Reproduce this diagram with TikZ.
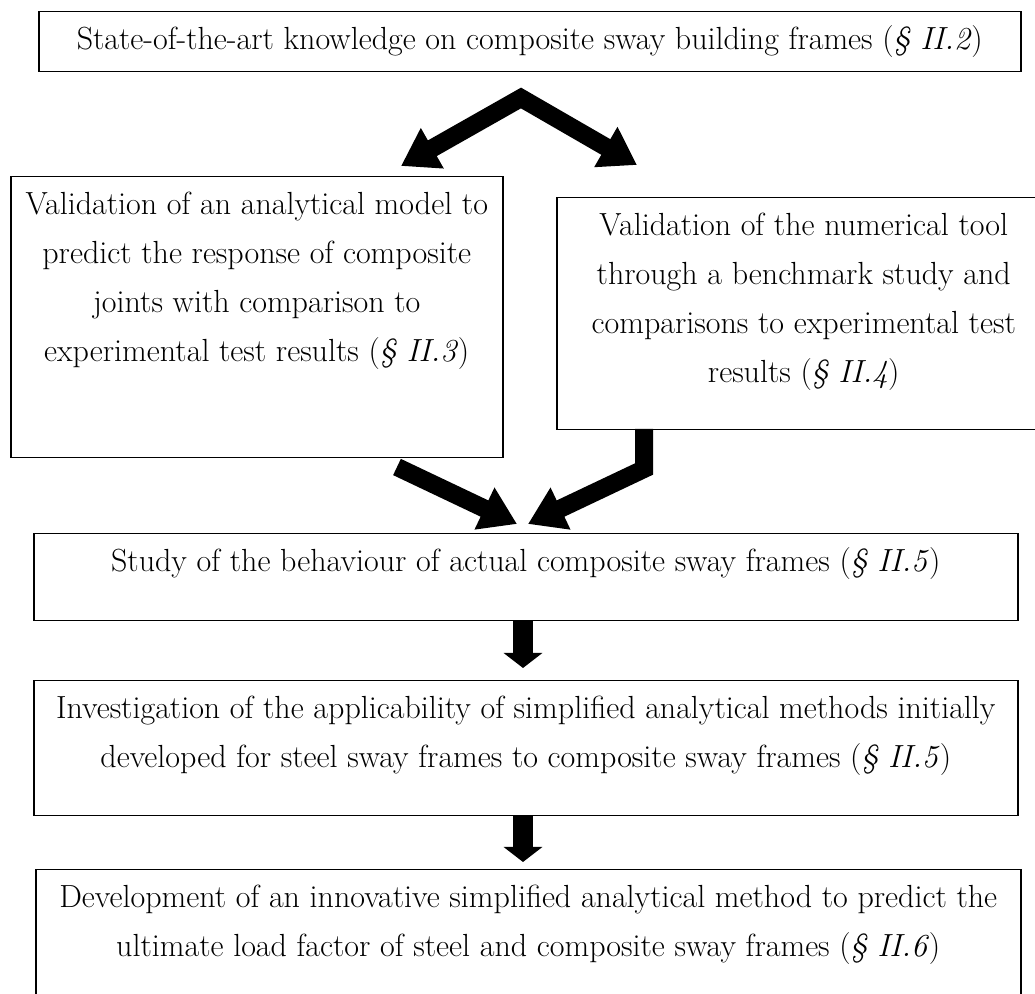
\documentclass[tikz,border=0pt]{standalone}
\usepackage{fontspec}
\usepackage{tikz}
\usetikzlibrary{arrows.meta,positioning}
\tikzset{
  stagebox/.style={rectangle, draw, line width=0.75pt, anchor=north west, inner sep=0pt},
  stagetext/.style={align=center, inner sep=0pt, font=\fontsize{16}{24.5}\selectfont},
  flowarrow/.style={line width=9pt, -{Triangle[width=22pt,length=18pt]}},
  downarrow/.style={line width=10pt, -{Triangle[width=19pt,length=7.5pt]}},
}

\begin{document}
\begin{tikzpicture}[x=0.5pt,y=-0.5pt]
  \useasboundingbox (0,0) rectangle (1035,994);
  \clip (0,0) rectangle (1035,994);

  % Boxes of the work plan
  \node[stagebox, minimum width=491pt, minimum height=30pt] (sota) at (38,11) {};
  \node[stagebox, minimum width=246pt, minimum height=140.5pt] (joints) at (10,176) {};
  \node[stagebox, minimum width=247pt, minimum height=116pt] (numtool) at (556,197) {};
  \node[stagebox, minimum width=492pt, minimum height=43.5pt] (actual) at (33,533) {};
  \node[stagebox, minimum width=492pt, minimum height=67.5pt] (simplif) at (33,680) {};
  \node[stagebox, minimum width=492.5pt, minimum height=100pt] (newmeth) at (35,869) {};

  % Texts
  \node[stagetext, below=7pt of sota.north] (sotatxt)
    {State-of-the-art knowledge on composite sway building frames (\textit{\S\ II.2})};
  \node[stagetext, below=8pt of joints.north] (jointstxt)
    {Validation of an analytical model to\\ predict the response of composite\\ joints with comparison to\\ experimental test results (\textit{\S\ II.3})};
  \node[stagetext, below=8pt of numtool.north] (numtooltxt)
    {Validation of the numerical tool\\ through a benchmark study and\\ comparisons to experimental test\\ results (\textit{\S\ II.4})};
  \node[stagetext, below=7pt of actual.north] (actualtxt)
    {Study of the behaviour of actual composite sway frames (\textit{\S\ II.5})};
  \node[stagetext, below=8pt of simplif.north] (simpliftxt)
    {Investigation of the applicability of simplified analytical methods initially\\ developed for steel sway frames to composite sway frames (\textit{\S\ II.5})};
  \node[stagetext, below=8pt of newmeth.north] (newmethtxt)
    {Development of an innovative simplified analytical method to predict the\\ ultimate load factor of steel and composite sway frames (\textit{\S\ II.6})};

  % Arrow ends
  \coordinate (split) at (521,98);
  \coordinate (splitL) at (401,166);
  \coordinate (splitR) at (637,165);
  \coordinate (joinL) at (397,467);
  \coordinate (joinR) at (644,429);
  \coordinate (bendR) at (644,469);
  \coordinate (tipL) at (517,524);
  \coordinate (tipR) at (528,524);

  % Arrows
  \draw[flowarrow, {Triangle[width=22pt,length=18pt]}-{Triangle[width=22pt,length=18pt]}]
    (splitL) -- (split) -- (splitR);
  \draw[flowarrow] (joinL) -- (tipL);
  \draw[flowarrow] (joinR) -- (bendR) -- (tipR);
  \draw[downarrow] (actual.south -| 523,0) -- (523,668);
  \draw[downarrow] (simplif.south -| 523,0) -- (523,862);
\end{tikzpicture}
\end{document}
